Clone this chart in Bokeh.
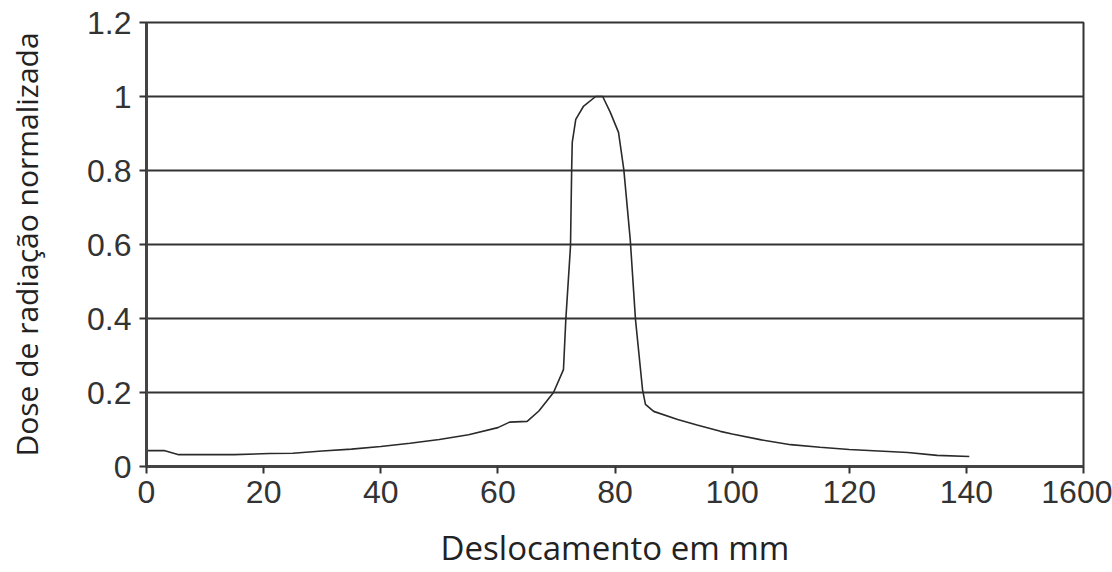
from bokeh.plotting import figure
from bokeh.models import Range1d, FixedTicker
from bokeh.embed import file_html
from bokeh.resources import INLINE

# Data
displacement_mm = [0, 3, 5.5, 10, 15, 21, 25, 30, 35, 40, 45, 50, 55, 60, 62, 65, 67,
                   69.5, 71.2, 71.6, 72.4, 72.6, 72.7, 73.3, 74.6, 76.7, 77.9, 79.2,
                   80.6, 81.5, 82.6, 83.5, 84.7, 85.2, 86.6, 90.7, 94, 98, 100, 105,
                   110, 115, 120, 125, 130, 135, 140.5]
dose = [0.043, 0.043, 0.032, 0.032, 0.032, 0.035, 0.036, 0.042, 0.047, 0.054, 0.063,
        0.073, 0.086, 0.105, 0.12, 0.122, 0.15, 0.2, 0.262, 0.397, 0.595, 0.803, 0.876,
        0.938, 0.973, 1.0, 1.0, 0.957, 0.903, 0.803, 0.614, 0.397, 0.208, 0.168, 0.149,
        0.127, 0.112, 0.095, 0.088, 0.072, 0.059, 0.052, 0.046, 0.042, 0.038, 0.03, 0.027]

x_ticks = [0, 20, 40, 60, 80, 100, 120, 140, 160]
x_tick_labels = ["0", "20", "40", "60", "80", "100", "120", "140", "1600"]
y_ticks = [0, 0.2, 0.4, 0.6, 0.8, 1, 1.2]
y_tick_labels = ["0", "0.2", "0.4", "0.6", "0.8", "1", "1.2"]

x_title = "Deslocamento em mm"
y_title = "Dose de radiação normalizada"

p = figure(width=1112, height=572, output_backend="svg", toolbar_location=None,
           x_range=Range1d(0, 160), y_range=Range1d(0, 1.2),
           min_border_left=146, min_border_right=29, min_border_top=22, min_border_bottom=105)
p.background_fill_color = "white"
p.border_fill_color = "white"
p.outline_line_color = "#333333"
p.outline_line_width = 2

p.line(displacement_mm, dose, line_color="#2a2a2a", line_width=1.6)

p.xgrid.visible = False
p.ygrid.ticker = FixedTicker(ticks=y_ticks)
p.ygrid.grid_line_color = "#333333"
p.ygrid.grid_line_width = 2

p.xaxis.ticker = FixedTicker(ticks=x_ticks)
p.yaxis.ticker = FixedTicker(ticks=y_ticks)
p.xaxis.major_label_overrides = {t: l for t, l in zip(x_ticks, x_tick_labels)}
p.yaxis.major_label_overrides = {t: l for t, l in zip(y_ticks, y_tick_labels)}

for ax in (p.xaxis, p.yaxis):
    ax.axis_line_color = "#444444"
    ax.axis_line_width = 3
    ax.major_tick_line_color = "#333333"
    ax.major_tick_line_width = 2
    ax.major_tick_out = 7
    ax.major_tick_in = 0
    ax.minor_tick_line_color = None
    ax.major_label_text_font = "Liberation Sans"
    ax.major_label_text_font_size = "32px"
    ax.major_label_text_color = "#333333"
    ax.axis_label_text_font = "Open Sans"
    ax.axis_label_text_font_style = "normal"
    ax.axis_label_text_color = "#222222"

p.xaxis.axis_label = x_title
p.yaxis.axis_label = y_title
p.xaxis.axis_label_text_font_size = "33px"
p.yaxis.axis_label_text_font_size = "30px"
p.xaxis.major_label_standoff = 7
p.yaxis.major_label_standoff = 8
p.xaxis.axis_label_standoff = 19
p.yaxis.axis_label_standoff = 37

open("out.html", "w").write(file_html(p, INLINE))
